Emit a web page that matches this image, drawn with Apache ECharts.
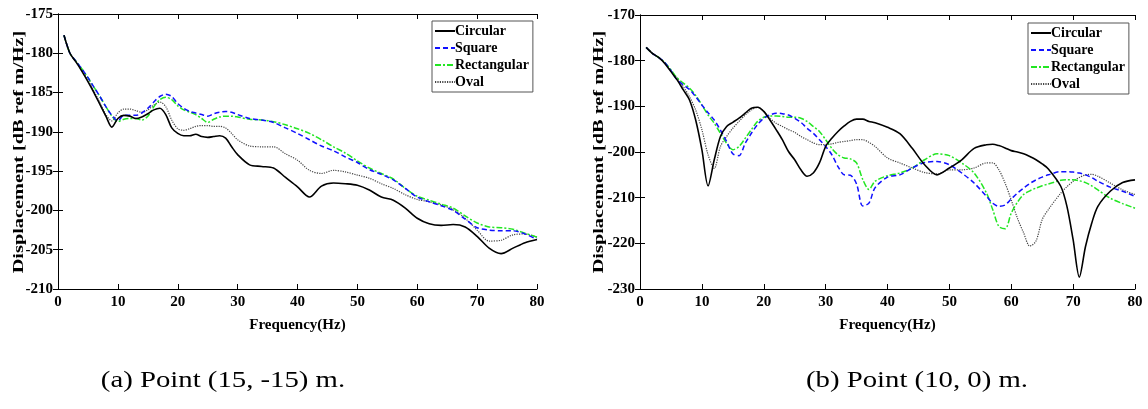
<!DOCTYPE html>
<html>
<head>
<meta charset="utf-8">
<script src="https://cdn.jsdelivr.net/npm/echarts@6/dist/echarts.min.js"></script>
<style>
  html, body { margin: 0; padding: 0; background: #fff; }
  #chart { width: 1148px; height: 409px; }
</style>
</head>
<body>
<div id="chart"></div>
<script>
// Frequencies (Hz) for panel (a), point (15, -15) m
const freqA = [1,2,3,4,5,6,7,8,9,10,11,12,13,14,15,16,17,18,19,20,21,22,23,24,25,26,27,28,29,30,
  32,34,36,38,40,42,44,46,48,50,52,54,56,58,60,62,64,66,68,70,72,74,76,78,80];
const circularA = [-177.7,-180,-181.1,-182.3,-183.6,-185.0,-186.5,-188.0,-189.4,-188.3,-187.9,-188,-188.3,-188.1,-187.7,-187.2,-187.0,-187.8,-189.5,-190.2,-190.5,-190.5,-190.3,-190.6,-190.7,-190.6,-190.5,-190.8,-191.9,-192.9,
  -194.2,-194.4,-194.6,-195.8,-197.0,-198.3,-196.9,-196.5,-196.6,-196.8,-197.4,-198.3,-198.7,-199.7,-201.0,-201.7,-201.9,-201.8,-202.1,-203.3,-204.8,-205.5,-204.8,-204.1,-203.7];
const squareA = [-177.7,-180,-181.0,-182.0,-183.1,-184.3,-185.5,-186.8,-187.9,-188.6,-187.9,-187.9,-187.9,-187.6,-187.0,-186.2,-185.5,-185.2,-185.5,-186.4,-187.0,-187.4,-187.6,-187.8,-188.0,-187.7,-187.5,-187.4,-187.5,-187.8,
  -188.3,-188.5,-188.8,-189.5,-190.2,-191.0,-191.8,-192.4,-193.2,-193.9,-194.8,-195.4,-196.1,-197.2,-198.3,-198.9,-199.4,-200.0,-201.1,-202.2,-202.5,-202.6,-202.6,-203.0,-203.7];
const rectangularA = [-177.7,-180,-181.0,-182.0,-183.1,-184.3,-185.5,-186.8,-188.0,-188.7,-188.4,-188.3,-188.3,-188.5,-188.0,-186.8,-185.9,-185.6,-185.9,-186.7,-187.2,-187.5,-187.8,-188.3,-188.8,-188.4,-188.1,-188.0,-188.0,-188.1,
  -188.4,-188.5,-188.7,-189.1,-189.6,-190.2,-191.0,-191.9,-192.7,-193.7,-194.6,-195.3,-196.0,-197.2,-198.2,-198.7,-199.2,-199.7,-200.7,-201.6,-202.1,-202.2,-202.4,-202.9,-203.4];
const ovalA = [-177.7,-180,-181.1,-182.2,-183.4,-184.8,-186.3,-187.8,-188.6,-187.6,-187.1,-187.1,-187.3,-187.5,-187.2,-186.6,-186.2,-186.8,-188.5,-189.6,-189.8,-189.6,-189.3,-189.2,-189.2,-189.3,-189.3,-189.5,-190.2,-191.0,
  -191.8,-191.9,-191.9,-192.8,-193.6,-194.9,-195.3,-194.9,-195.1,-195.5,-195.9,-196.6,-197.2,-198.0,-198.6,-198.9,-199.3,-199.9,-201.0,-202.5,-203.9,-203.8,-203.1,-203.0,-203.4];

// Frequencies (Hz) for panel (b), point (10, 0) m
const freqB = [1,2,3,4,5,6,7,8,9,10,11,12,13,14,15,16,17,18,19,20,21,22,23,24,25,26,27,28,29,30,31,32,33,34,35,36,37,
  38,40,42,44,46,48,50,52,54,56,57,58,59,60,61,62,63,64,65,66,68,69,70,71,72,73,74,76,78,80];
const circularB = [-177.1,-178.4,-179.3,-180.6,-182.4,-184.2,-186.4,-188.6,-193.0,-199.5,-207.4,-201.7,-196.6,-194.4,-193.5,-192.6,-191.5,-190.4,-190.2,-191.1,-193.0,-195.1,-197.3,-199.9,-201.7,-203.9,-205.3,-204.6,-202.4,-198.8,-197.0,-195.5,-194.3,-193.3,-192.8,-192.8,-193.3,
  -193.6,-194.6,-196.0,-199.2,-202.8,-205.0,-203.5,-201.7,-199.2,-198.4,-198.3,-198.6,-199.1,-199.7,-200.0,-200.4,-201.0,-201.7,-202.6,-203.7,-207.5,-211.9,-219.2,-227.4,-220.7,-215.6,-211.9,-208.6,-206.7,-206.1];
const squareB = [-177.1,-178.4,-179.3,-180.4,-182.2,-184.2,-185.3,-186.3,-187.9,-189.7,-191.4,-193.0,-195.2,-197.7,-200.4,-200.8,-198.1,-195.9,-194.0,-192.6,-191.9,-191.5,-191.6,-191.9,-192.6,-193.5,-194.8,-195.9,-197.3,-198.8,-200.6,-203.2,-205.0,-205.1,-207.0,-211.8,-211.2,
  -207.8,-205.5,-205.0,-203.5,-202.3,-202.1,-202.8,-204.6,-206.8,-209.7,-211.2,-211.9,-211.6,-210.3,-209.0,-207.9,-206.9,-206.1,-205.5,-205.0,-204.3,-204.3,-204.4,-204.6,-205.0,-205.6,-206.4,-207.7,-208.6,-209.7];
const rectangularB = [-177.1,-178.4,-179.3,-180.4,-182.0,-183.8,-184.9,-186.0,-187.6,-189.7,-191.9,-193.7,-195.9,-198.1,-199.5,-198.8,-197.0,-195.1,-193.3,-192.4,-192.1,-192.1,-192.2,-192.4,-192.4,-192.6,-193.3,-194.4,-195.5,-197.3,-199.2,-200.6,-201.3,-201.5,-202.4,-206.0,-208.2,
  -206.4,-205.2,-204.6,-203.5,-201.7,-200.4,-200.8,-202.4,-204.6,-209.0,-212.6,-216.3,-216.8,-213.4,-211.0,-209.3,-208.5,-207.9,-207.4,-207.0,-206.2,-206.1,-206.1,-206.3,-206.7,-207.4,-208.3,-210.1,-211.3,-212.3];
const ovalB = [-177.1,-178.4,-179.3,-180.4,-182.2,-183.8,-185.7,-187.9,-190.8,-195.1,-200.6,-203.6,-198.8,-196.6,-194.8,-193.3,-191.9,-190.8,-190.2,-191.1,-192.6,-193.7,-194.4,-195.1,-195.7,-196.6,-197.3,-198.0,-198.4,-198.4,-198.2,-197.9,-197.7,-197.5,-197.3,-197.3,-197.9,
  -198.8,-201.3,-202.4,-203.5,-204.5,-204.8,-203.9,-203.9,-203.5,-202.4,-202.4,-203.9,-206.8,-210.5,-214.5,-217.7,-220.6,-219.5,-214.8,-212.6,-209.0,-207.6,-206.4,-205.6,-205.0,-204.9,-205.3,-206.8,-208.3,-209.3];

const seriesNames = ['Circular', 'Square', 'Rectangular', 'Oval'];
const captions = ['(a) Point (15, -15) m.', '(b) Point (10, 0) m.'];
const xTitle = 'Frequency(Hz)';
const yTitle = 'Displacement [dB ref m/Hz]';

const FONT = '"Liberation Serif", "Times New Roman", serif';
const styles = [
  { color: '#000000', width: 1.6, type: 'solid' },
  { color: '#1010ff', width: 1.5, type: [5, 3] },
  { color: '#22e622', width: 1.5, type: [6, 2, 2, 2] },
  { color: '#444444', width: 1.2, type: [1.2, 1.2] }
];

function pairs(xs, ys) { return xs.map((x, i) => [x, ys[i]]); }

const panels = [
  { freq: freqA, values: [circularA, squareA, rectangularA, ovalA], yMin: -210, yMax: -175, yStep: 5,
    grid: { left: 58, top: 14, width: 479, height: 275 }, legend: { left: 432, top: 21 },
    yTitlePos: [19, 152], captionX: 223 },
  { freq: freqB, values: [circularB, squareB, rectangularB, ovalB], yMin: -230, yMax: -170, yStep: 10,
    grid: { left: 640, top: 15, width: 495, height: 274 }, legend: { left: 1028, top: 23 },
    yTitlePos: [599, 152], captionX: 917 }
];

const tickLabel = { color: '#000', fontFamily: FONT, fontWeight: 'bold', fontSize: 15 };
const axisLine = { show: true, lineStyle: { color: '#000', width: 1 } };
const tick = { inside: true, length: 5, lineStyle: { color: '#000' } };

const grid = [], xAxis = [], yAxis = [], series = [], legend = [], graphic = [];
panels.forEach((p, gi) => {
  grid.push(Object.assign({ containLabel: false }, p.grid));
  // bottom axis with labels, plus a mirrored top axis carrying ticks only
  xAxis.push({
    type: 'value', gridIndex: gi, min: 0, max: 80, interval: 10, position: 'bottom',
    axisLine, axisTick: tick,
    axisLabel: Object.assign({ margin: 6 }, tickLabel), splitLine: { show: false },
    name: xTitle, nameLocation: 'middle', nameGap: 29,
    nameTextStyle: { color: '#000', fontFamily: FONT, fontWeight: 'bold', fontSize: 15 }
  });
  xAxis.push({
    type: 'value', gridIndex: gi, min: 0, max: 80, interval: 10, position: 'top',
    axisLine, axisTick: tick, axisLabel: { show: false }, splitLine: { show: false }
  });
  yAxis.push({
    type: 'value', gridIndex: gi, min: p.yMin, max: p.yMax, interval: p.yStep, position: 'left',
    axisLine, axisTick: tick,
    axisLabel: Object.assign({ margin: 5 }, tickLabel), splitLine: { show: false }
  });
  yAxis.push({
    type: 'value', gridIndex: gi, min: p.yMin, max: p.yMax, interval: p.yStep, position: 'right',
    axisLine, axisTick: tick, axisLabel: { show: false }, splitLine: { show: false }
  });
  seriesNames.forEach((name, si) => {
    const s = styles[si];
    series.push({
      name, type: 'line', xAxisIndex: gi * 2, yAxisIndex: gi * 2,
      data: pairs(p.freq, p.values[si]), smooth: 0.3, showSymbol: false, symbol: 'none',
      color: s.color, lineStyle: { color: s.color, width: s.width, type: s.type },
      z: 10 - si, animation: false
    });
  });
  legend.push({
    left: p.legend.left, top: p.legend.top, orient: 'vertical', data: seriesNames,
    backgroundColor: '#fff', borderColor: '#555', borderWidth: 1,
    padding: [3, 4, 3, 2], itemGap: 3, itemWidth: 20, itemHeight: 14,
    itemStyle: { opacity: 0 },
    textStyle: { color: '#000', fontFamily: FONT, fontWeight: 'bold', fontSize: 14, padding: [0, 0, 0, -5] },
    selectedMode: false
  });
  // vertical axis title, drawn tall and narrow like the printed figure
  graphic.push({
    type: 'text', x: p.yTitlePos[0], y: p.yTitlePos[1], rotation: Math.PI / 2, scaleX: 1.45,
    style: { text: yTitle, fill: '#000', font: 'bold 14px ' + FONT, align: 'center', verticalAlign: 'middle' }
  });
  graphic.push({
    type: 'text', x: p.captionX, y: 381, scaleX: 1.25,
    style: { text: captions[gi], fill: '#000', font: '23px ' + FONT, align: 'center', verticalAlign: 'middle' }
  });
});

const chart = echarts.init(document.getElementById('chart'), null, { renderer: 'canvas' });
chart.setOption({
  backgroundColor: '#fff',
  animation: false,
  grid, xAxis, yAxis, series, legend, graphic
});
</script>
</body>
</html>
